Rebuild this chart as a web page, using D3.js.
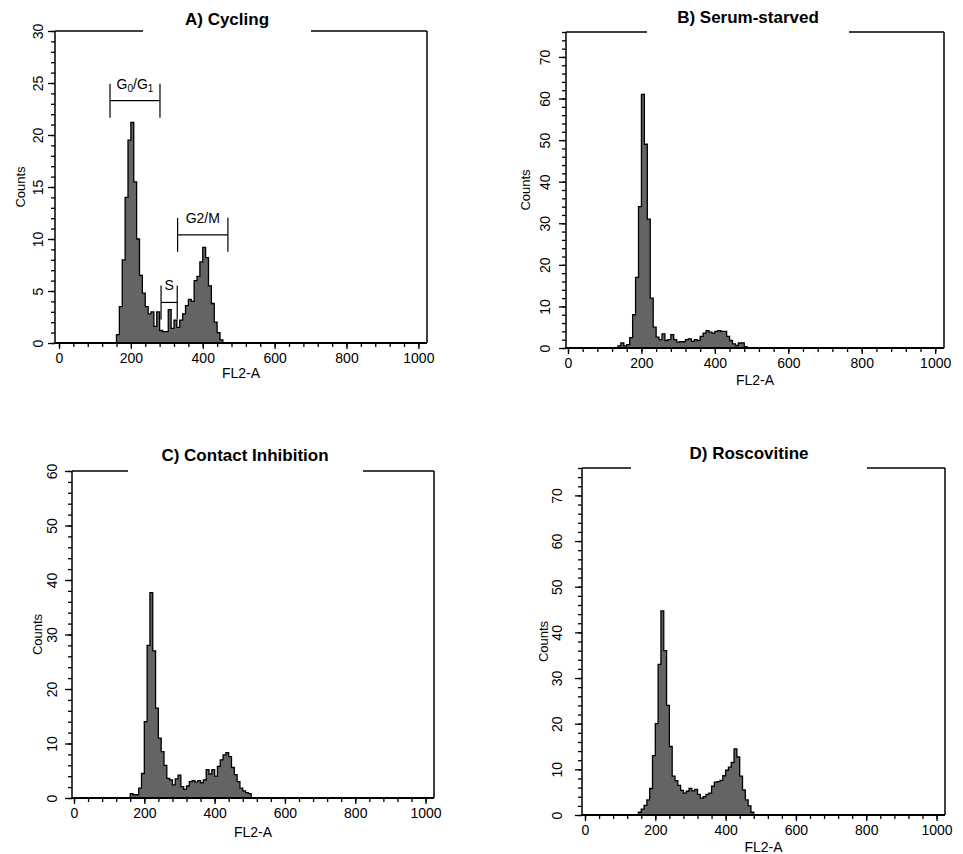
<!DOCTYPE html>
<html>
<head>
<meta charset="utf-8">
<script src="https://cdn.jsdelivr.net/npm/d3@7"></script>
<style>
body { margin: 0; background: #fff; }
text { font-family: "Liberation Sans", Arial, sans-serif; fill: #000; }
</style>
</head>
<body>
<svg id="chart" width="963" height="854"></svg>
<script>
var binWidth = 8;
var titles = ['A) Cycling', 'B) Serum-starved', 'C) Contact Inhibition', 'D) Roscovitine'];
var xTickLabels = [0, 200, 400, 600, 800, 1000];
var yMaxes = [30, 76, 60, 76];
var yLabelSteps = [5, 10, 10, 10];

var cyclingStart = 160;
var cyclingCounts = [0.8, 3.5, 8, 14, 19.5, 21.2, 15.5, 10, 6.5, 4.8, 3.5, 2.8, 3, 1.6, 3, 1.2, 1.1, 1.1, 3.2, 1.4,
	2.2, 1.5, 2.2, 2.8, 3.6, 4.2, 4, 6, 6.4, 7.8, 9.2, 8.2, 5.5, 3.8, 2, 1, 0.3];

var serumStart = 136;
var serumCounts = [0.5, 1.2, 0.5, 0.8, 2.5, 8, 17, 34, 61, 49, 31, 12, 5, 2.6, 2, 3.4, 1.8, 2, 3.2, 2,
	1.4, 1.5, 1.5, 2, 2.2, 1.6, 2, 1.8, 2.8, 3.6, 4.2, 3.8, 3.6, 4, 4.2, 4, 4, 2.8, 1.8, 1, 0.6, 1.2, 1.2, 0.3];

var contactStart = 160;
var contactCounts = [0.8, 0.6, 0.6, 1.8, 4.5, 14, 28, 37.7, 27, 16.5, 11, 8.5, 6, 3.6, 3.3, 2.4, 3.5, 4.2, 2.1, 1.6,
	2.2, 3, 3.2, 2.9, 3.2, 2.8, 3.3, 5.2, 4.4, 5.2, 4, 5.8, 7, 7.9, 8.3, 7.6, 5.6, 4.3, 3, 1.8, 1.3, 1, 0.8];

var roscovitineStart = 152;
var roscovitineCounts = [0.6, 1.3, 2.1, 3.3, 5.8, 13, 20, 33, 44.7, 36, 24, 15, 8.5, 7.5, 6.5, 5.4, 4.8, 5.2, 5.8, 5.3,
	5.6, 4.5, 3.7, 4, 4.5, 4.8, 6.3, 7.2, 7.3, 7.6, 8.6, 9.8, 10.5, 11.5, 14.5, 12.7, 8.5, 5.5, 3.3, 2, 0.6];

// gates drawn on panel A (channels, counts)
var markerNames = ['G0/G1', 'S', 'G2/M'];
var markerFrom = [142, 284, 330];
var markerTo = [281, 329, 470];
var markerLevel = [23.3, 3.9, 10.4];

var series = [
	{ start: cyclingStart, counts: cyclingCounts },
	{ start: serumStart, counts: serumCounts },
	{ start: contactStart, counts: contactCounts },
	{ start: roscovitineStart, counts: roscovitineCounts },
];

// each scanned panel sits a little differently on the page
var panels = [
	{ left: 55, right: 427, top: 31, bottom: 343, x0: 59, gap: [143, 311], titleX: 227, titleY: 25, tickGap: 12, countsGap: 30, fl2Gap: 35 },
	{ left: 566, right: 944, top: 32, bottom: 348, x0: 568, gap: [647, 849], titleX: 748, titleY: 23, tickGap: 16, countsGap: 36, fl2Gap: 37 },
	{ left: 72, right: 434, top: 471, bottom: 798, x0: 74, gap: [128, 363], titleX: 245, titleY: 461, tickGap: 15, countsGap: 30, fl2Gap: 39 },
	{ left: 582, right: 945, top: 468, bottom: 815, x0: 585, gap: [631, 867], titleX: 749, titleY: 459, tickGap: 20, countsGap: 34, fl2Gap: 37 },
];

var svg = d3.select('#chart');

panels.forEach(function(p, i) {
	var g = svg.append('g');
	var s = series[i];
	var x = d3.scaleLinear().domain([0, 1024]).range([p.x0, p.right]);
	var y = d3.scaleLinear().domain([0, yMaxes[i]]).range([p.bottom, p.top]);

	var pts = [{ ch: s.start, v: 0 }]
		.concat(s.counts.map(function(v, j) {
			return { ch: s.start + j * binWidth, v: v };
		}))
		.concat([{ ch: s.start + s.counts.length * binWidth, v: 0 }]);

	var area = d3.area()
		.curve(d3.curveStepAfter)
		.x(function(d) { return x(d.ch); })
		.y0(y(0))
		.y1(function(d) { return y(d.v); });
	var line = d3.line()
		.curve(d3.curveStepAfter)
		.x(function(d) { return x(d.ch); })
		.y(function(d) { return y(d.v); });

	g.append('path').attr('d', area(pts)).attr('fill', '#646464');
	g.append('path').attr('d', line(pts)).attr('fill', 'none').attr('stroke', '#000').attr('stroke-width', 1.3);

	// x ticks
	g.append('g')
		.attr('transform', 'translate(0,' + p.bottom + ')')
		.call(d3.axisBottom(x).tickValues(d3.range(0, 1001, 40)).tickSize(4).tickFormat(''))
		.call(function(a) { a.select('.domain').remove(); });
	var xa = g.append('g')
		.attr('transform', 'translate(0,' + p.bottom + ')')
		.call(d3.axisBottom(x).tickValues(xTickLabels).tickSize(6).tickPadding(4).tickFormat(d3.format('d')));
	xa.select('.domain').remove();
	xa.selectAll('text').style('font-size', '14px').attr('font-family', null);

	// y ticks, labels turned sideways
	var step = yLabelSteps[i];
	g.append('g')
		.attr('transform', 'translate(' + p.left + ',0)')
		.call(d3.axisLeft(y).tickValues(d3.range(0, yMaxes[i] + 0.001, step / 5)).tickSize(4).tickFormat(''))
		.call(function(a) { a.select('.domain').remove(); });
	var ya = g.append('g')
		.attr('transform', 'translate(' + p.left + ',0)')
		.call(d3.axisLeft(y).tickValues(d3.range(0, yMaxes[i] + 0.001, step)).tickSize(7));
	ya.select('.domain').remove();
	ya.selectAll('text')
		.attr('transform', 'rotate(-90)')
		.attr('x', 0)
		.attr('y', -p.tickGap)
		.attr('dy', 0)
		.style('text-anchor', 'middle')
		.style('font-size', '14px');
	g.selectAll('.tick line').attr('stroke-width', 1.3);

	// frame with the gap for the title
	var frame = [
		[p.left, p.top, p.gap[0], p.top],
		[p.gap[1], p.top, p.right, p.top],
		[p.right, p.top, p.right, p.bottom],
		[p.left, p.top, p.left, p.bottom],
	];
	g.selectAll('.frame')
		.data(frame)
		.enter()
		.append('line')
		.attr('x1', function(d) { return d[0]; })
		.attr('y1', function(d) { return d[1]; })
		.attr('x2', function(d) { return d[2]; })
		.attr('y2', function(d) { return d[3]; })
		.attr('stroke', '#000')
		.attr('stroke-width', 1.5);
	g.append('line')
		.attr('x1', p.left).attr('x2', p.right)
		.attr('y1', p.bottom).attr('y2', p.bottom)
		.attr('stroke', '#000')
		.attr('stroke-width', 2.2);

	g.append('text')
		.attr('x', p.titleX)
		.attr('y', p.titleY)
		.style('text-anchor', 'middle')
		.style('font-size', '17px')
		.style('font-weight', 'bold')
		.text(titles[i]);

	g.append('text')
		.attr('transform', 'translate(' + (p.left - p.countsGap) + ',' + (p.top + p.bottom) / 2 + ') rotate(-90)')
		.style('text-anchor', 'middle')
		.style('font-size', '13px')
		.text('Counts');

	g.append('text')
		.attr('x', (p.left + p.right) / 2)
		.attr('y', p.bottom + p.fl2Gap)
		.style('text-anchor', 'middle')
		.style('font-size', '14px')
		.text('FL2-A');

	if (i === 0) {
		markerNames.forEach(function(name, k) {
			var x1 = x(markerFrom[k]), x2 = x(markerTo[k]), yy = y(markerLevel[k]);
			var m = g.append('g').attr('stroke', '#000').attr('stroke-width', 1.2);
			m.append('line').attr('x1', x1).attr('x2', x2).attr('y1', yy).attr('y2', yy);
			m.append('line').attr('x1', x1).attr('x2', x1).attr('y1', yy - 17).attr('y2', yy + 17);
			m.append('line').attr('x1', x2).attr('x2', x2).attr('y1', yy - 17).attr('y2', yy + 17);
			var t = g.append('text')
				.attr('x', (x1 + x2) / 2)
				.attr('y', yy - 12)
				.style('text-anchor', 'middle')
				.style('font-size', '14px');
			if (name === 'G0/G1') {
				t.append('tspan').text('G');
				t.append('tspan').attr('dy', 3).style('font-size', '10px').text('0');
				t.append('tspan').attr('dy', -3).text('/G');
				t.append('tspan').attr('dy', 3).style('font-size', '10px').text('1');
			} else {
				t.text(name);
			}
		});
	}
});
</script>
</body>
</html>
